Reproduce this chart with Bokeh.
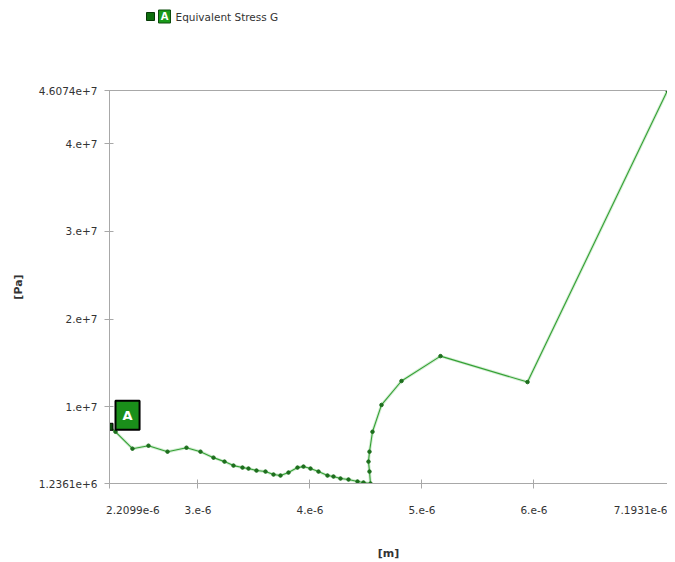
from bokeh.plotting import figure
from bokeh.layouts import column
from bokeh.models import Range1d, FixedTicker, LinearAxis, Label
from bokeh.core.properties import value
from bokeh.embed import file_html
from bokeh.resources import INLINE

# data (x in metres, y in pascal)
x_um = [2.2099, 2.2635, 2.415, 2.558, 2.728, 2.8975, 3.0225, 3.1386, 3.2369, 3.3172,
        3.3976, 3.4512, 3.5226, 3.6030, 3.6745, 3.7370, 3.8084, 3.8888, 3.9424, 4.0049,
        4.0763, 4.1567, 4.2103, 4.2728, 4.3443, 4.4246, 4.4782, 4.5407, 4.5318, 4.5228,
        4.5318, 4.5586, 4.6390, 4.8176, 5.1659, 5.9428, 7.1931]
y_mpa = [7.706, 7.138, 5.209, 5.549, 4.868, 5.322, 4.868, 4.187, 3.733, 3.279,
         3.052, 2.939, 2.712, 2.598, 2.258, 2.144, 2.485, 3.052, 3.166, 2.939,
         2.598, 2.144, 2.031, 1.804, 1.690, 1.463, 1.350, 1.2361, 2.598, 3.733,
         4.868, 7.138, 10.20, 12.93, 15.77, 12.81, 46.074]
x_vals = [v * 1e-6 for v in x_um]
y_vals = [v * 1e6 for v in y_mpa]

x_ticks = [2.2099e-6, 3e-6, 4e-6, 5e-6, 6e-6, 7.1931e-6]
x_tick_labels = ["2.2099e-6", "3.e-6", "4.e-6", "5.e-6", "6.e-6", "7.1931e-6"]
y_ticks = [1.2361e6, 1e7, 2e7, 3e7, 4e7, 4.6074e7]
y_tick_labels = ["1.2361e+6", "1.e+7", "2.e+7", "3.e+7", "4.e+7", "4.6074e+7"]

series_name = "Equivalent Stress G"
series_tag = "A"
x_title = "[m]"
y_title = "[Pa]"

FONT = "DejaVu Sans"
AXIS_COL = "#a8a8a8"
TXT_COL = "#333333"
LINE_COL = "#34a034"
MARK_COL = "#1d6e1d"
TAG_COL = "#1a8f1a"
NB = "\u00a0"

LEFT = 109          # frame left edge (px)
FRAME_W = 667 - LEFT

# ---------- legend strip (frame aligned with the chart frame) ----------
LEG_H = 40
leg = figure(width=667, height=LEG_H, output_backend="svg", toolbar_location=None,
             x_range=Range1d(0, FRAME_W), y_range=Range1d(0, LEG_H),
             min_border=0, min_border_left=LEFT, x_axis_type=None, y_axis_type=None)
leg.outline_line_color = None
leg.grid.visible = False
leg.rect(x=[150 - LEFT], y=[LEG_H - 16], width=8, height=8, fill_color="#0d6e0d", line_color="#063806")
leg.rect(x=[164 - LEFT], y=[LEG_H - 16], width=12, height=13, fill_color="#1a9a1a", line_color="#0d4d0d")
leg.text(x=[164 - LEFT], y=[LEG_H - 16], text=[series_tag], text_align="center", text_baseline="middle",
         text_font=value(FONT), text_font_size="10px", text_font_style="bold", text_color="white")
leg.text(x=[175 - LEFT], y=[LEG_H - 16], text=[series_name], text_align="left", text_baseline="middle",
         text_font=value(FONT), text_font_size="10.5px", text_color=TXT_COL)

# ---------- main chart ----------
p = figure(width=667, height=562 - LEG_H, output_backend="svg", toolbar_location=None,
           x_range=Range1d(x_ticks[0], x_ticks[-1]), y_range=Range1d(y_ticks[0], y_ticks[-1]),
           min_border_left=LEFT, min_border_right=0, min_border_top=90 - LEG_H,
           min_border_bottom=562 - 485)
p.outline_line_color = None
p.grid.visible = False

p.line(x_vals, y_vals, line_color="#a8dca8", line_width=3, line_alpha=0.5)
p.line(x_vals, y_vals, line_color=LINE_COL, line_width=1.1)
p.scatter(x_vals, y_vals, size=3.5, color=MARK_COL, line_color=MARK_COL)

# X axis
xa = p.xaxis[0]
xa.ticker = FixedTicker(ticks=x_ticks)
overrides = {t: l for t, l in zip(x_ticks, x_tick_labels)}
overrides[x_ticks[0]] = NB * 14 + x_tick_labels[0]
xa.major_label_overrides = overrides
xa.axis_label = x_title
xa.axis_label_standoff = 28
xa.major_label_standoff = 15

# Y axis
ya = p.yaxis[0]
ya.ticker = FixedTicker(ticks=y_ticks)
ya.major_label_overrides = {t: l for t, l in zip(y_ticks, y_tick_labels)}
ya.axis_label = y_title
ya.axis_label_standoff = 11
ya.major_label_standoff = 7

for a in (xa, ya):
    a.axis_line_color = AXIS_COL
    a.major_tick_line_color = AXIS_COL
    a.minor_tick_line_color = None
    a.major_tick_in = 4
    a.major_tick_out = 5
    a.major_label_text_font = FONT
    a.major_label_text_font_size = "10.5px"
    a.major_label_text_color = TXT_COL
    a.axis_label_text_font = FONT
    a.axis_label_text_font_style = "bold"
    a.axis_label_text_font_size = "11px"
    a.axis_label_text_color = TXT_COL

# top border line
top = LinearAxis(ticker=FixedTicker(ticks=[]), axis_line_color=AXIS_COL,
                 major_tick_line_color=None, minor_tick_line_color=None,
                 major_label_text_font_size="0px")
p.add_layout(top, "above")

# marker tag "A" at the start of the series
p.add_layout(Label(x=x_vals[0], y=y_vals[0], text=series_tag, x_offset=6, y_offset=-3,
                   text_align="left", text_baseline="bottom", text_font=FONT,
                   text_font_size="13px", text_font_style="bold", text_color="white",
                   background_fill_color=TAG_COL, border_line_color="black",
                   border_line_width=2, padding=7))
p.scatter([x_vals[0]], [y_vals[0]], marker="square", size=7, color="#0d4d0d", line_color="black")

open("out.html", "w").write(file_html(column(leg, p, spacing=0), INLINE))
